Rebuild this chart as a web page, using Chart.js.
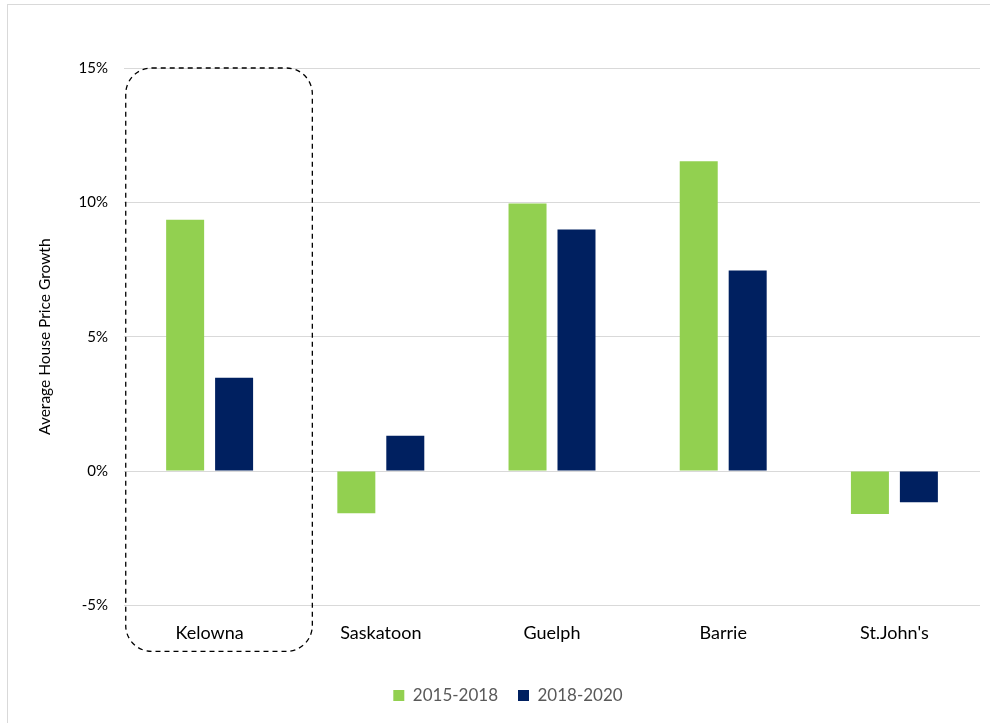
<!DOCTYPE html>
<html>
<head>
<meta charset="utf-8">
<script src="https://cdn.jsdelivr.net/npm/chart.js@4"></script>
<style>
  body { margin: 0; background: #fff; }
  #cadre { position: absolute; left: 7px; top: 4px; width: 1000px; height: 740px; border: 1px solid #d9d9d9; }
  #zone { position: absolute; left: 0; top: 0; width: 990px; height: 723px; }
</style>
</head>
<body>
<div id="cadre"></div>
<div id="zone"><canvas id="croissance"></canvas></div>
<script>
// Villes et croissance moyenne des prix (%)
const villes = ['Kelowna', 'Saskatoon', 'Guelph', 'Barrie', "St.John's"];
const croissance2015_2018 = [9.35, -1.57, 9.96, 11.53, -1.6];
const croissance2018_2020 = [3.47, 1.31, 8.99, 7.46, -1.16];
const graduations = [-5, 0, 5, 10, 15];

const police = 'Lato, "Open Sans", sans-serif';

// Cadre pointillé arrondi autour de Kelowna
const cadreKelowna = {
    id: 'cadreKelowna',
    afterDraw(chart) {
        const x = chart.scales.x, y = chart.scales.y;
        const largeurCat = x.width / villes.length;
        const centre = x.getPixelForValue(0);
        const gauche = centre - 0.49 * largeurCat;
        const droite = centre + 0.6 * largeurCat;
        const haut = y.getPixelForValue(15);
        const bas = chart.chartArea.bottom + 46;
        const ctx = chart.ctx;
        ctx.save();
        ctx.setLineDash([5, 4]);
        ctx.lineWidth = 1.3;
        ctx.strokeStyle = '#000';
        ctx.beginPath();
        ctx.roundRect(gauche, haut, droite - gauche, bas - haut, 26);
        ctx.stroke();
        ctx.restore();
    }
};

const ctx = document.getElementById('croissance').getContext('2d');
new Chart(ctx, {
    type: 'bar',
    data: {
        labels: villes,
        datasets: [{
            label: '2015-2018',
            data: croissance2015_2018,
            backgroundColor: '#92d050'
        }, {
            label: '2018-2020',
            data: croissance2018_2020,
            backgroundColor: '#002060'
        }]
    },
    options: {
        responsive: true,
        maintainAspectRatio: false,
        animation: false,
        categoryPercentage: 0.572,
        barPercentage: 0.776,
        layout: { padding: { left: 36, right: 10, top: 68, bottom: 9 } },
        plugins: {
            tooltip: { enabled: false },
            legend: {
                position: 'bottom',
                labels: {
                    boxWidth: 11,
                    boxHeight: 11,
                    padding: 20,
                    color: '#595959',
                    font: { family: police, size: 17 }
                }
            }
        },
        scales: {
            x: {
                grid: { display: false },
                border: { display: false },
                ticks: {
                    color: '#000',
                    padding: 9,
                    font: { family: police, size: 18 }
                },
                afterFit(axis) { axis.height += 14; }
            },
            y: {
                min: -5,
                max: 15,
                afterBuildTicks(axis) {
                    axis.ticks = graduations.map(v => ({ value: v }));
                },
                grid: { color: '#d9d9d9', drawTicks: false },
                border: { display: false },
                ticks: {
                    color: '#000',
                    padding: 16,
                    font: { family: police, size: 15 },
                    callback: v => v + '%'
                },
                title: {
                    display: true,
                    text: 'Average House Price Growth',
                    color: '#000',
                    padding: { top: 0, bottom: 8 },
                    font: { family: police, size: 15.5 }
                }
            }
        }
    },
    plugins: [cadreKelowna]
});
</script>
</body>
</html>
